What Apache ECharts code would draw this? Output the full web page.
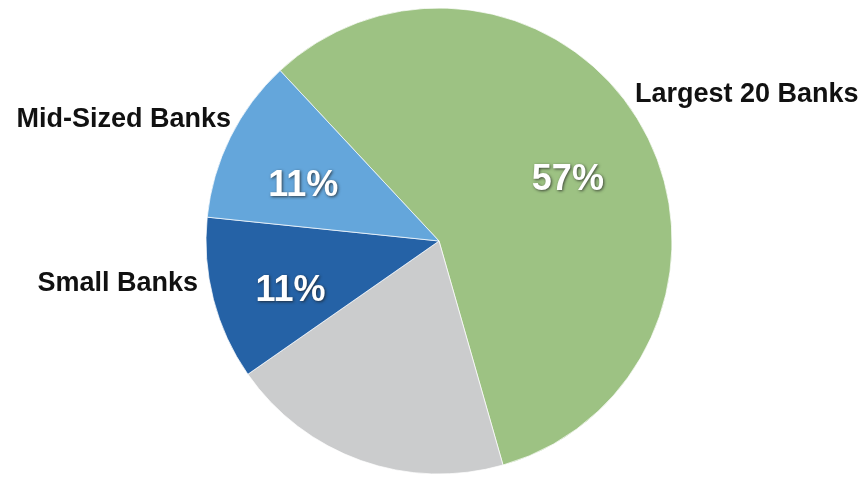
<!DOCTYPE html>
<html>
<head>
<meta charset="utf-8">
<script src="https://cdn.jsdelivr.net/npm/echarts@6/dist/echarts.min.js"></script>
<style>
  html, body { margin: 0; padding: 0; background: #fff; }
  #chart { width: 863px; height: 479px; }
</style>
</head>
<body>
<div id="chart"></div>
<script>
// slices, clockwise from the top-left edge of the green slice
const categories = ['Largest 20 Banks', '', 'Small Banks', 'Mid-Sized Banks']
const shares = [57.4, 19.7, 11.3, 11.4]
const colors = ['#9dc283', '#cbcccd', '#2562a6', '#64a6db']
const showPct = [true, false, true, true]

// where the outside name labels sit
const nameSpots = [
  { x: 635, y: 95, align: 'left' },
  null,
  { x: 198, y: 284, align: 'right' },
  { x: 231, y: 120, align: 'right' }
]
// nudges for the percent labels off the slice middle
const pctNudge = [[-10, 18], [0, 0], [6, 10], [7, 16]]

const chart = echarts.init(document.getElementById('chart'))

const center = [439, 241]
const radius = 233

const pieData = categories.map((c, i) => ({
  name: c,
  value: shares[i],
  itemStyle: { color: colors[i] },
  label: { show: !!nameSpots[i] }
}))

const pctData = categories.map((c, i) => ({
  name: c,
  value: shares[i],
  label: { show: showPct[i] }
}))

chart.setOption({
  animation: false,
  series: [
    {
      type: 'pie',
      center: center,
      radius: [0, radius],
      startAngle: 133,
      clockwise: true,
      data: pieData,
      itemStyle: { borderColor: 'rgba(255,255,255,0.7)', borderWidth: 1 },
      emphasis: { disabled: true },
      label: {
        position: 'outside',
        formatter: '{b}',
        color: '#111',
        fontFamily: 'Liberation Sans, Arial, sans-serif',
        fontWeight: 'bold',
        fontSize: 27,
        overflow: 'none'
      },
      labelLine: { show: false },
      labelLayout: function (p) {
        const s = nameSpots[p.dataIndex]
        if (!s) return {}
        return { x: s.x, y: s.y, align: s.align, verticalAlign: 'middle', hideOverlap: false, moveOverlap: false }
      }
    },
    {
      type: 'pie',
      center: center,
      radius: [80, radius],
      startAngle: 133,
      clockwise: true,
      silent: true,
      data: pctData,
      itemStyle: { color: 'transparent' },
      label: {
        position: 'inside',
        formatter: p => Math.round(p.value) + '%',
        color: '#fff',
        fontFamily: 'Liberation Sans, Arial, sans-serif',
        fontWeight: 'bold',
        fontSize: 36,
        textShadowColor: 'rgba(30,30,30,0.75)',
        textShadowBlur: 3,
        textShadowOffsetX: 1,
        textShadowOffsetY: 1
      },
      labelLine: { show: false },
      labelLayout: function (p) {
        const n = pctNudge[p.dataIndex]
        return { dx: n[0], dy: n[1] }
      }
    }
  ]
})
</script>
</body>
</html>
